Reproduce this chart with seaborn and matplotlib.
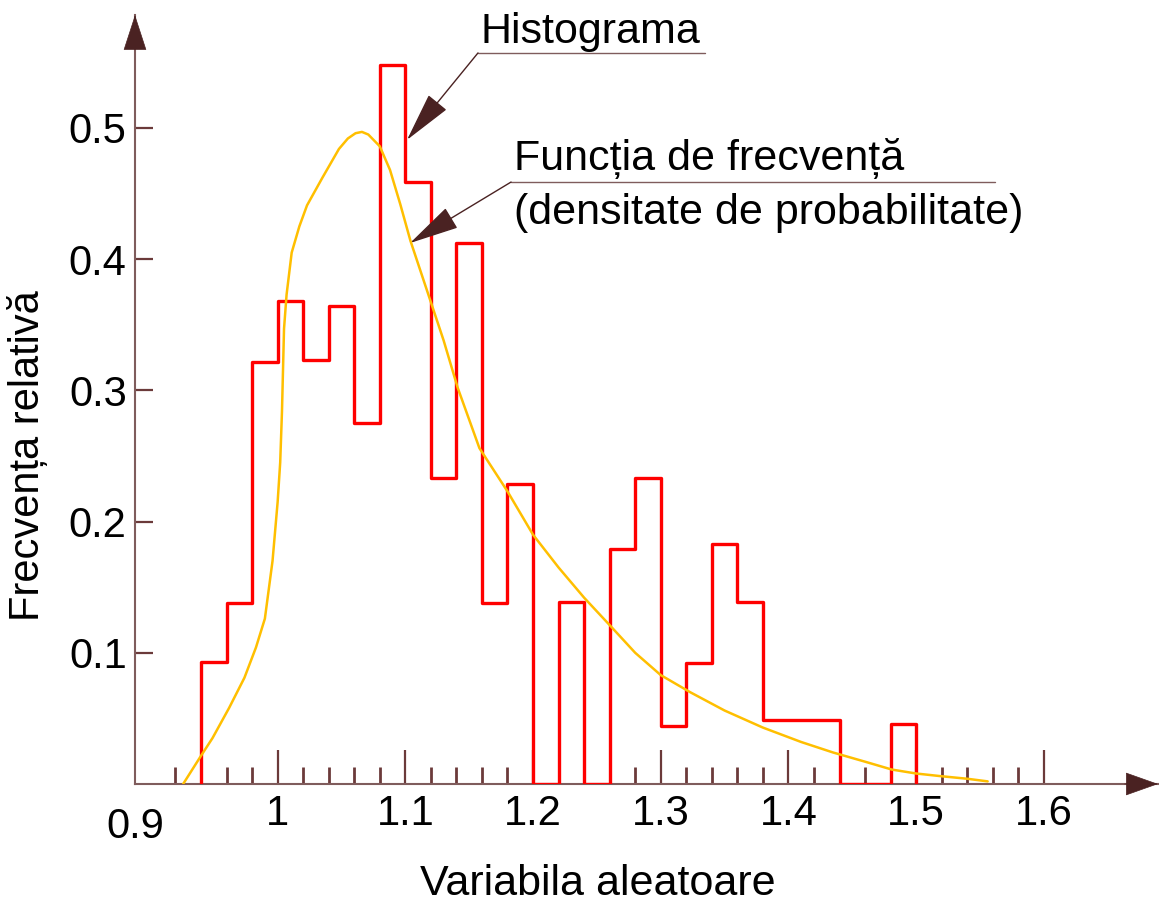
import numpy as np
import matplotlib
matplotlib.use("Agg")
import matplotlib.pyplot as plt
import seaborn as sns

# ---------------- data ----------------
bin_edges = [0.94, 0.96, 0.98, 1.00, 1.02, 1.04, 1.06, 1.08, 1.10, 1.12, 1.14,
             1.16, 1.18, 1.20, 1.22, 1.24, 1.26, 1.28, 1.30, 1.32, 1.34, 1.36,
             1.38, 1.40, 1.42, 1.44, 1.46, 1.48, 1.50]
rel_freq = [0.093, 0.138, 0.322, 0.368, 0.323, 0.364, 0.275, 0.548, 0.459,
            0.233, 0.412, 0.138, 0.229, 0.0, 0.139, 0.0, 0.179, 0.233, 0.044,
            0.092, 0.183, 0.139, 0.049, 0.049, 0.049, 0.0, 0.0, 0.046]

curve_x = [0.926, 0.939, 0.949, 0.962, 0.974, 0.983, 0.990, 0.996, 1.000,
           1.002, 1.0034, 1.005, 1.007, 1.011, 1.017, 1.023, 1.035, 1.048,
           1.055, 1.061, 1.066, 1.071, 1.080, 1.088, 1.096, 1.104, 1.117,
           1.130, 1.141, 1.158, 1.180, 1.200, 1.220, 1.240, 1.262, 1.280,
           1.300, 1.323, 1.350, 1.380, 1.410, 1.435, 1.460, 1.481, 1.500,
           1.519, 1.540, 1.556]
curve_y = [0.000, 0.020, 0.035, 0.058, 0.081, 0.104, 0.126, 0.170, 0.215,
           0.245, 0.284, 0.347, 0.373, 0.405, 0.425, 0.441, 0.462, 0.484,
           0.492, 0.496, 0.497, 0.495, 0.486, 0.468, 0.442, 0.414, 0.376,
           0.338, 0.302, 0.256, 0.223, 0.190, 0.165, 0.142, 0.119, 0.100,
           0.083, 0.070, 0.056, 0.043, 0.032, 0.024, 0.017, 0.011, 0.008,
           0.006, 0.004, 0.002]

x_major = [1.0, 1.1, 1.2, 1.3, 1.4, 1.5, 1.6]
x_major_labels = ["1", "1.1", "1.2", "1.3", "1.4", "1.5", "1.6"]
origin_label = "0.9"
y_major = [0.1, 0.2, 0.3, 0.4, 0.5]
y_major_labels = ["0.1", "0.2", "0.3", "0.4", "0.5"]

# ---------------- style ----------------
sns.set_style("white")
plt.rcParams["font.family"] = ["Liberation Sans", "DejaVu Sans"]
plt.rcParams["text.color"] = "black"
plt.rcParams["axes.labelcolor"] = "black"
plt.rcParams["xtick.color"] = "black"
plt.rcParams["ytick.color"] = "black"

AXIS = "#7f5c5c"
TICK = "#6b3a3a"
HEAD = "#4a2222"
RED = "#ff0000"
GOLD = "#ffbf00"

fig = plt.figure(figsize=(11.59, 9.02), dpi=100)
ax = fig.add_axes([135 / 1159, 118 / 902, 1023 / 1159, 769 / 902])
ax.set_xlim(0.8883, 1.6894)
ax.set_ylim(0, 0.5861)

# histogram outline
centers = [(a + b) / 2 for a, b in zip(bin_edges[:-1], bin_edges[1:])]
sns.histplot(x=centers, weights=rel_freq, bins=bin_edges, element="step",
             fill=False, color=RED, linewidth=2.4, ax=ax, zorder=3)
ax.vlines([bin_edges[0], bin_edges[-1]], 0, [rel_freq[0], rel_freq[-1]],
          color=RED, linewidth=2.4, zorder=3)

# density curve
sns.lineplot(x=curve_x, y=curve_y, color=GOLD, linewidth=1.8, estimator=None,
             sort=False, ax=ax, zorder=4)

# spines
for s in ["top", "right"]:
    ax.spines[s].set_visible(False)
for s in ["left", "bottom"]:
    ax.spines[s].set_color(AXIS)
    ax.spines[s].set_linewidth(1.5)

# ticks
ax.set_xticks(x_major)
ax.set_xticklabels(x_major_labels)
ax.set_xticks([v for v in np.round(np.arange(0.92, 1.59, 0.02), 2)
               if not np.isclose(v * 10, round(v * 10))], minor=True)
ax.set_yticks(y_major)
ax.set_yticklabels(y_major_labels)
ax.tick_params(axis="x", which="both", bottom=True, top=False)
ax.tick_params(axis="y", which="both", left=True, right=False)
ax.tick_params(axis="x", which="major", direction="in", length=24.5, width=1.6,
               color=TICK, labelcolor="black", labelsize=30, pad=7)
ax.tick_params(axis="x", which="minor", direction="in", length=12, width=2.0,
               color=TICK)
ax.tick_params(axis="y", which="major", direction="in", length=13, width=1.6,
               color=TICK, labelcolor="black", labelsize=30, pad=6)
ax.tick_params(axis="y", which="minor", length=0)
ax.text(0.0, -0.03, origin_label, transform=ax.transAxes, ha="center",
        va="top", fontsize=30, color="black")

# axis labels
ax.set_xlabel("Variabila aleatoare", fontsize=31, color="black")
ax.xaxis.set_label_coords(0.4526, -0.1443)
ax.xaxis.label.set_va("baseline")
ax.set_ylabel("Frecvența relativă", fontsize=30, color="black")
ax.yaxis.set_label_coords(-0.1046, 0.4265)
ax.yaxis.label.set_va("center")

# axis arrows
ax.annotate("", xy=(1, 0), xycoords="axes fraction", xytext=(-24, 0),
            textcoords="offset points",
            arrowprops=dict(arrowstyle="-|>,head_length=2.2,head_width=0.78",
                            mutation_scale=10, color=HEAD, lw=0.5,
                            shrinkA=0, shrinkB=0), annotation_clip=False)
ax.annotate("", xy=(0, 1), xycoords="axes fraction", xytext=(0, -25),
            textcoords="offset points",
            arrowprops=dict(arrowstyle="-|>,head_length=2.4,head_width=0.78",
                            mutation_scale=10, color=HEAD, lw=0.5,
                            shrinkA=0, shrinkB=0), annotation_clip=False)

# annotations
ax.text(1.1585, 0.5648, "Histograma", fontsize=31, ha="left", va="baseline",
        color="black")
ax.plot([1.1569, 1.3347], [0.5572, 0.5572], color=AXIS, lw=1.0, clip_on=False)
ax.annotate("", xy=(1.1013, 0.4909), xytext=(1.1569, 0.5572),
            arrowprops=dict(arrowstyle="-|>,head_length=3.2,head_width=0.75",
                            mutation_scale=10, color=HEAD, lw=1.0,
                            shrinkA=0, shrinkB=0))

ax.text(1.1851, 0.4680, "Funcția de frecvență", fontsize=31, ha="left",
        va="baseline", color="black")
ax.text(1.1851, 0.4268, "(densitate de probabilitate)", fontsize=31,
        ha="left", va="baseline", color="black")
ax.plot([1.1828, 1.5618], [0.4588, 0.4588], color=AXIS, lw=1.0, clip_on=False)
ax.annotate("", xy=(1.1037, 0.4123), xytext=(1.1828, 0.4588),
            arrowprops=dict(arrowstyle="-|>,head_length=3.2,head_width=0.75",
                            mutation_scale=10, color=HEAD, lw=1.0,
                            shrinkA=0, shrinkB=0))

fig.savefig("out.png", dpi=100)
